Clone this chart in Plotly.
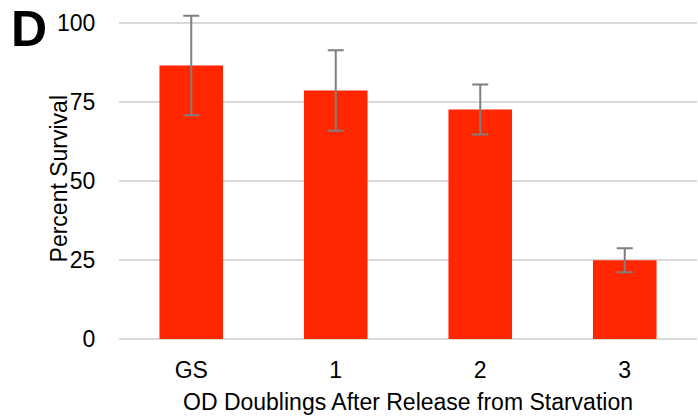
import plotly.graph_objects as go

categories = ["GS", "1", "2", "3"]
survival = [86.5, 78.6, 72.6, 24.9]
errors = [15.7, 12.7, 7.9, 3.8]
y_ticks = [0, 25, 50, 75, 100]

FONT = "Liberation Sans, Arial, sans-serif"
FS = 23

fig = go.Figure(go.Bar(
    x=categories, y=survival,
    marker=dict(color="#ff2600", line=dict(width=0)),
    error_y=dict(type="data", array=errors, visible=True,
                 color="#7f7f7f", thickness=2, width=8),
    cliponaxis=False,
))

fig.update_layout(
    width=698, height=419,
    margin=dict(l=119, r=1, t=7, b=80),
    paper_bgcolor="white", plot_bgcolor="white",
    bargap=0.56,
    font=dict(family=FONT, size=FS, color="black"),
    showlegend=False,
    xaxis=dict(
        showgrid=False, showline=False, zeroline=False,
        ticks="outside", ticklen=10, tickcolor="rgba(0,0,0,0)",
        tickfont=dict(size=FS),
    ),
    yaxis=dict(
        range=[0, 105], tickvals=y_ticks,
        showgrid=True, gridcolor="#d9d9d9", gridwidth=1.5,
        zeroline=True, zerolinecolor="#d9d9d9", zerolinewidth=1.5,
        showline=False, ticks="outside", ticklen=18,
        tickcolor="rgba(0,0,0,0)",
        tickfont=dict(size=FS),
    ),
    annotations=[
        dict(text="<b>D</b>", xref="paper", yref="paper",
             x=-0.1894, y=1.021, xanchor="left", yanchor="top",
             borderpad=0, showarrow=False, font=dict(size=50, family=FONT)),
        dict(text="Percent Survival", xref="paper", yref="paper",
             x=-0.103, y=0.482, xanchor="center", yanchor="middle",
             textangle=-90, showarrow=False, font=dict(size=FS)),
        dict(text="OD Doublings After Release from Starvation",
             xref="paper", yref="paper", x=0.5, y=-0.19,
             xanchor="center", yanchor="middle", showarrow=False,
             font=dict(size=FS)),
    ],
)

fig.write_html("out.html")
